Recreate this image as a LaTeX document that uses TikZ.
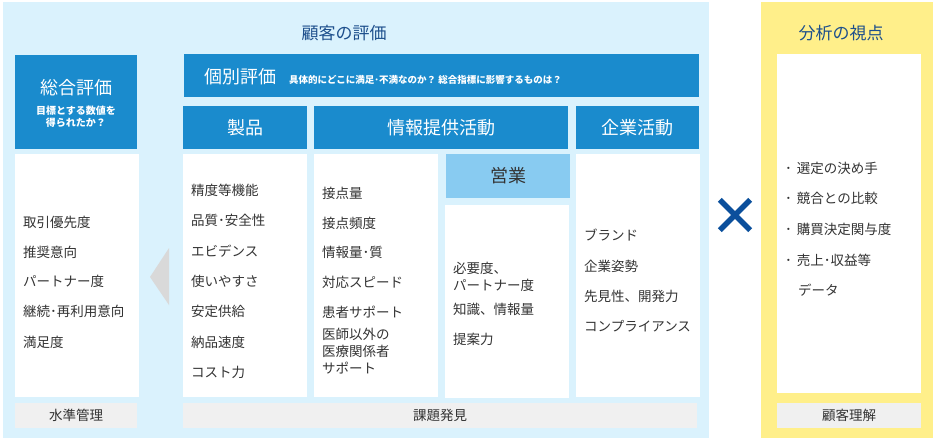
\documentclass[tikz,border=0pt]{standalone}
\usepackage{fontspec}
\setmainfont{Noto Sans CJK JP}
\definecolor{bgblue}{HTML}{DAF2FD}
\definecolor{bgyellow}{HTML}{FFEF8A}
\definecolor{mainblue}{HTML}{1A8BCD}
\definecolor{lightblue}{HTML}{88CBF1}
\definecolor{labelgray}{HTML}{F0F0F0}
\definecolor{titleblue}{HTML}{1D4F8C}
\definecolor{txt}{HTML}{333333}
\definecolor{crossblue}{HTML}{0B4F9C}
\begin{document}
\begin{tikzpicture}[x=1pt,y=-1pt,
  panel/.style={draw=none,inner sep=0pt,outer sep=0pt,anchor=north west},
  bluebox/.style={panel,fill=mainblue},
  whitebox/.style={panel,fill=white},
  graybox/.style={panel,fill=labelgray},
  headtext/.style={text=white,font=\fontsize{18}{20}\selectfont,inner sep=0pt},
  item/.style={anchor=west,inner sep=0pt,text=txt,font=\fontsize{13.5}{17}\selectfont},
  multiitem/.style={anchor=north west,inner sep=0pt,text=txt,align=left,font=\fontsize{13.5}{17}\selectfont},
  labeltext/.style={inner sep=0pt,text=txt,font=\fontsize{13.5}{16}\selectfont},
  titletext/.style={inner sep=0pt,text=titleblue,font=\fontsize{17}{20}\selectfont}]
\useasboundingbox (0,0) rectangle (937,440);
% backgrounds
\node[panel,fill=bgblue,minimum width=706,minimum height=436] (bgb) at (3,2) {};
\node[panel,fill=bgyellow,minimum width=172,minimum height=436] (bgy) at (761,2) {};
\node[titletext] (ttl1) at (344,33) {顧客の評価};
\node[titletext] (ttl2) at (841,33) {分析の視点};
% left column
\node[bluebox,minimum width=122,minimum height=94] (sogo) at (15,55) {};
\node[headtext] (sogoT) at (76,88) {総合評価};
\node[text=white,inner sep=0pt,align=center,font=\bfseries\fontsize{10}{12}\selectfont] (sogoS) at (76,117) {目標とする数値を\\得られたか？};
\node[whitebox,minimum width=124,minimum height=243] (sogoW) at (15,154) {};
\node[graybox,minimum width=122,minimum height=25] (suijun) at (15,403) {};
\node[labeltext] at (suijun.center) {水準管理};
\node[item] (l1) at (23,222) {取引優先度};
\node[item] (l2) at (23,252) {推奨意向};
\node[item] (l3) at (23,281) {パートナー度};
\node[item] (l4) at (23,311) {継続･再利用意向};
\node[item] (l5) at (23,342) {満足度};
% arrow triangle
\coordinate (tA) at (150,277);
\coordinate (tB) at (169,248);
\coordinate (tC) at (169,305);
\fill[fill=black!15] (tA) -- (tB) -- (tC) -- cycle;
% individual evaluation
\node[bluebox,minimum width=515,minimum height=43] (kobetsu) at (184,54) {};
\node[headtext,anchor=west] (kobT) at (204,77) {個別評価};
\node[anchor=west,text=white,inner sep=0pt,font=\bfseries\fontsize{9.5}{11}\selectfont] (kobS) at (289,80) {具体的にどこに満足･不満なのか？ 総合指標に影響するものは？};
\node[bluebox,minimum width=124,minimum height=43] (seihin) at (183,106) {};
\node[headtext] at (seihin.center) {製品};
\node[bluebox,minimum width=254,minimum height=43] (joho) at (314,106) {};
\node[headtext] at (joho.center) {情報提供活動};
\node[bluebox,minimum width=123,minimum height=43] (kigyo) at (576,106) {};
\node[headtext] at (kigyo.center) {企業活動};
\node[whitebox,minimum width=124,minimum height=243] (seihinW) at (183,154) {};
\node[whitebox,minimum width=124,minimum height=243] (johoW) at (314,154) {};
\node[panel,fill=lightblue,minimum width=124,minimum height=44] (eigyo) at (446,154) {};
\node[headtext,text=txt] at (eigyo.center) {営業};
\node[whitebox,minimum width=124,minimum height=193] (eigyoW) at (445,205) {};
\node[whitebox,minimum width=124,minimum height=243] (kigyoW) at (576,154) {};
\node[graybox,minimum width=514,minimum height=25] (kadai) at (183,403) {};
\node[labeltext] at (kadai.center) {課題発見};
% product items
\node[item] (p1) at (191,190) {精度等機能};
\node[item] (p2) at (191,220) {品質･安全性};
\node[item] (p3) at (191,251) {エビデンス};
\node[item] (p4) at (191,281) {使いやすさ};
\node[item] (p5) at (191,311) {安定供給};
\node[item] (p6) at (191,342) {納品速度};
\node[item] (p7) at (191,372) {コスト力};
% info items
\node[item] (i1) at (322,193) {接点量};
\node[item] (i2) at (322,223) {接点頻度};
\node[item] (i3) at (322,252) {情報量･質};
\node[item] (i4) at (322,282) {対応スピード};
\node[item] (i5) at (322,312) {患者サポート};
\node[multiitem] (i6) at (322,328) {医師以外の\\医療関係者\\サポート};
% sales items
\node[multiitem] (s1) at (453,262) {必要度、\\パートナー度};
\node[item] (s2) at (453,309) {知識、情報量};
\node[item] (s3) at (453,339) {提案力};
% corporate items
\node[item] (c1) at (584,235) {ブランド};
\node[item] (c2) at (584,266) {企業姿勢};
\node[item] (c3) at (584,296) {先見性、開発力};
\node[item] (c4) at (584,326) {コンプライアンス};
% cross
\node[inner sep=0pt,minimum size=30] (cross) at (735,215) {};
\draw[crossblue,line width=5.5] (cross.north west) -- (cross.south east);
\draw[crossblue,line width=5.5] (cross.north east) -- (cross.south west);
% analysis
\node[whitebox,minimum width=144,minimum height=339] (bunW) at (777,54) {};
\node[graybox,minimum width=144,minimum height=25] (kokyaku) at (777,403) {};
\node[labeltext] at (kokyaku.center) {顧客理解};
\node[item] (b1) at (785,168) {･\hspace{5pt}選定の決め手};
\node[item] (b2) at (785,198) {･\hspace{5pt}競合との比較};
\node[item] (b3) at (785,229) {･\hspace{5pt}購買決定関与度};
\node[item] (b4) at (785,260) {･\hspace{5pt}売上･収益等};
\node[item] (b5) at (798,290) {データ};
\end{tikzpicture}
\end{document}
